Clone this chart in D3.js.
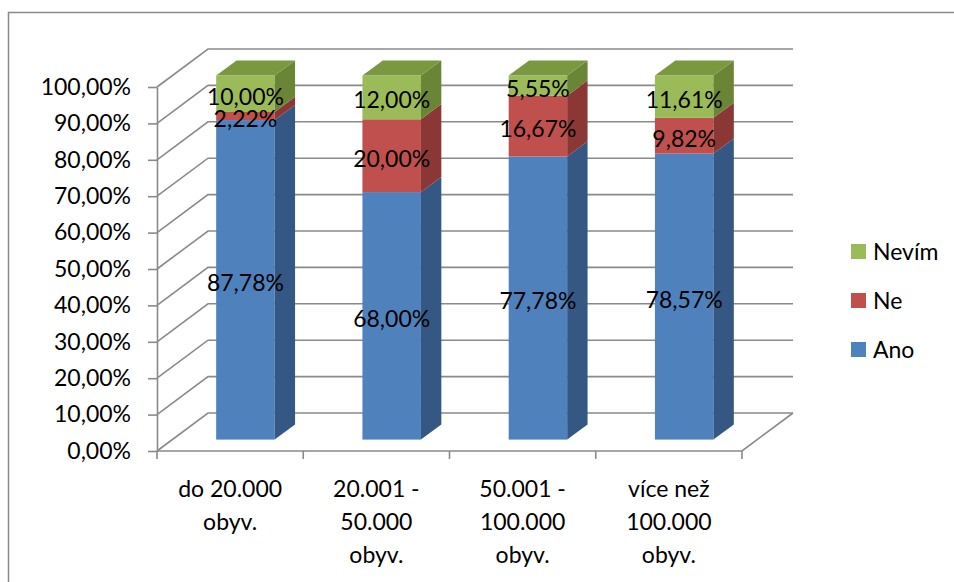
<!DOCTYPE html>
<html>
<head>
<meta charset="utf-8">
<script src="https://cdn.jsdelivr.net/npm/d3@7"></script>
<style>
  html, body { margin: 0; padding: 0; background: #fff; }
  svg { display: block; font-family: Lato, "Noto Sans", sans-serif; }
</style>
</head>
<body>
<svg id="chart" width="954" height="582"></svg>
<script>
// Category names (line breaks mark wrapped axis labels)
const categories = ["do 20.000\nobyv.", "20.001 -\n50.000\nobyv.", "50.001 -\n100.000\nobyv.", "více než\n100.000\nobyv."];
// Shares in percent per category
const ano   = [87.78, 68.00, 77.78, 78.57];
const ne    = [2.22, 20.00, 16.67, 9.82];
const nevim = [10.00, 12.00, 5.55, 11.61];
const seriesNames = ["Ano", "Ne", "Nevím"];
const yTickValues = [0, 10, 20, 30, 40, 50, 60, 70, 80, 90, 100];

(function () {
const colors = {
  "Ano":   { front: "#4F81BD", side: "#355784", top: "#4773A9" },
  "Ne":    { front: "#C0504D", side: "#8A3735", top: "#A8423F" },
  "Nevím": { front: "#9BBB59", side: "#6A8535", top: "#7A9840" }
};

const svg = d3.select("#chart");
const W = 954, H = 582;
const gridColor = "#8a8a8a";
const FONT = 23;

// outer chart frame
svg.append("rect").attr("x", 8.5).attr("y", 12.5).attr("width", W + 20).attr("height", H + 20)
  .attr("fill", "#fff").attr("stroke", gridColor).attr("stroke-width", 1.5);

// front plane of the 3D plot and the depth offset of the back wall
const plotLeft = 157, plotRight = 742, plotBottom = 451, plotTop = 87;
const DX = 51, DY = -38;
const barFront = 0.3, barBack = 0.7;

const rows = categories.map((c, i) => ({ cat: c, "Ano": ano[i], "Ne": ne[i], "Nevím": nevim[i] }));

const x = d3.scaleBand().domain(categories).range([plotLeft, plotRight]).padding(0);
const y = d3.scaleLinear().domain([0, 100]).range([plotBottom, plotTop]);
const barW = x.bandwidth() * 0.4;

const fmt = d3.formatLocale({ decimal: ",", thousands: " ", grouping: [3], currency: ["", " Kč"] }).format(".2f");
const pct = v => fmt(v) + "%";

// walls: side-wall slants and back-wall gridlines
const grid = svg.append("g").attr("fill", "none").attr("stroke", gridColor).attr("stroke-width", 1.6);
yTickValues.forEach(t => {
  const yy = y(t);
  grid.append("path").attr("d", `M${plotLeft},${yy}L${plotLeft + DX},${yy + DY}L${plotRight + DX},${yy + DY}`);
});
// floor front and right edges
grid.append("path").attr("d", `M${plotLeft},${plotBottom}L${plotRight},${plotBottom}L${plotRight + DX},${plotBottom + DY}`);

// vertical axis
const yAxis = d3.axisLeft(y).tickValues(yTickValues).tickFormat(pct).tickSize(9).tickSizeOuter(0).tickPadding(17);
const gy = svg.append("g").attr("transform", `translate(${plotLeft},0)`).call(yAxis);
gy.selectAll("path, line").attr("stroke", gridColor).attr("stroke-width", 1.6);
gy.selectAll("text").attr("font-size", FONT).attr("fill", "#000").attr("font-family", "Lato, 'Noto Sans', sans-serif");

// category axis: ticks at band edges
const edges = categories.map(c => x(c)).concat([plotRight]);
svg.append("g").selectAll("line").data(edges).join("line")
  .attr("x1", d => d).attr("x2", d => d).attr("y1", plotBottom).attr("y2", plotBottom + 8)
  .attr("stroke", gridColor).attr("stroke-width", 1.6);

const catText = svg.append("g").attr("font-size", FONT).attr("text-anchor", "middle").attr("fill", "#000");
categories.forEach(c => {
  const t = catText.append("text").attr("x", x(c) + x.bandwidth() / 2).attr("y", plotBottom + 38);
  c.split("\n").forEach((line, i) => {
    t.append("tspan").attr("x", x(c) + x.bandwidth() / 2).attr("dy", i === 0 ? "0.35em" : 33).text(line);
  });
});

// stacked 3D bars
const stack = d3.stack().keys(seriesNames)(rows);
const bars = svg.append("g");
const fdx = DX * barFront, fdy = DY * barFront;
const ddx = DX * (barBack - barFront), ddy = DY * (barBack - barFront);

rows.forEach((r, i) => {
  const cx = x(r.cat) + x.bandwidth() / 2 + fdx;
  const x0 = cx - barW / 2, x1 = cx + barW / 2;
  stack.forEach((layer, k) => {
    const [v0, v1] = layer[i];
    const yb = y(v0) + fdy, yt = y(v1) + fdy;
    const col = colors[layer.key];
    // front face
    bars.append("rect").attr("x", x0).attr("y", yt).attr("width", x1 - x0).attr("height", yb - yt)
      .attr("fill", col.front);
    // side face
    bars.append("path")
      .attr("d", `M${x1},${yb}L${x1 + ddx},${yb + ddy}L${x1 + ddx},${yt + ddy}L${x1},${yt}Z`)
      .attr("fill", col.side);
    // top face on the topmost segment
    if (k === stack.length - 1) {
      bars.append("path")
        .attr("d", `M${x0},${yt}L${x1},${yt}L${x1 + ddx},${yt + ddy}L${x0 + ddx},${yt + ddy}Z`)
        .attr("fill", col.top);
    }
  });
});

// value labels centred on each segment's front face
const labels = svg.append("g").attr("font-size", FONT).attr("text-anchor", "middle").attr("fill", "#000");
rows.forEach((r, i) => {
  const cx = x(r.cat) + x.bandwidth() / 2 + fdx;
  stack.forEach(layer => {
    const [v0, v1] = layer[i];
    const v = r[layer.key];
    labels.append("text").attr("x", cx).attr("y", (y(v0) + y(v1)) / 2 + fdy + 3)
      .attr("dy", "0.35em").text(pct(v));
  });
});

// legend
const legend = svg.append("g").attr("font-size", FONT).attr("fill", "#000");
seriesNames.slice().reverse().forEach((name, i) => {
  const cy = 251.5 + i * 49;
  legend.append("rect").attr("x", 851).attr("y", cy - 7.5).attr("width", 15).attr("height", 15)
    .attr("fill", colors[name].front);
  legend.append("text").attr("x", 873).attr("y", cy).attr("dy", "0.35em").text(name);
});
})();
</script>
</body>
</html>
